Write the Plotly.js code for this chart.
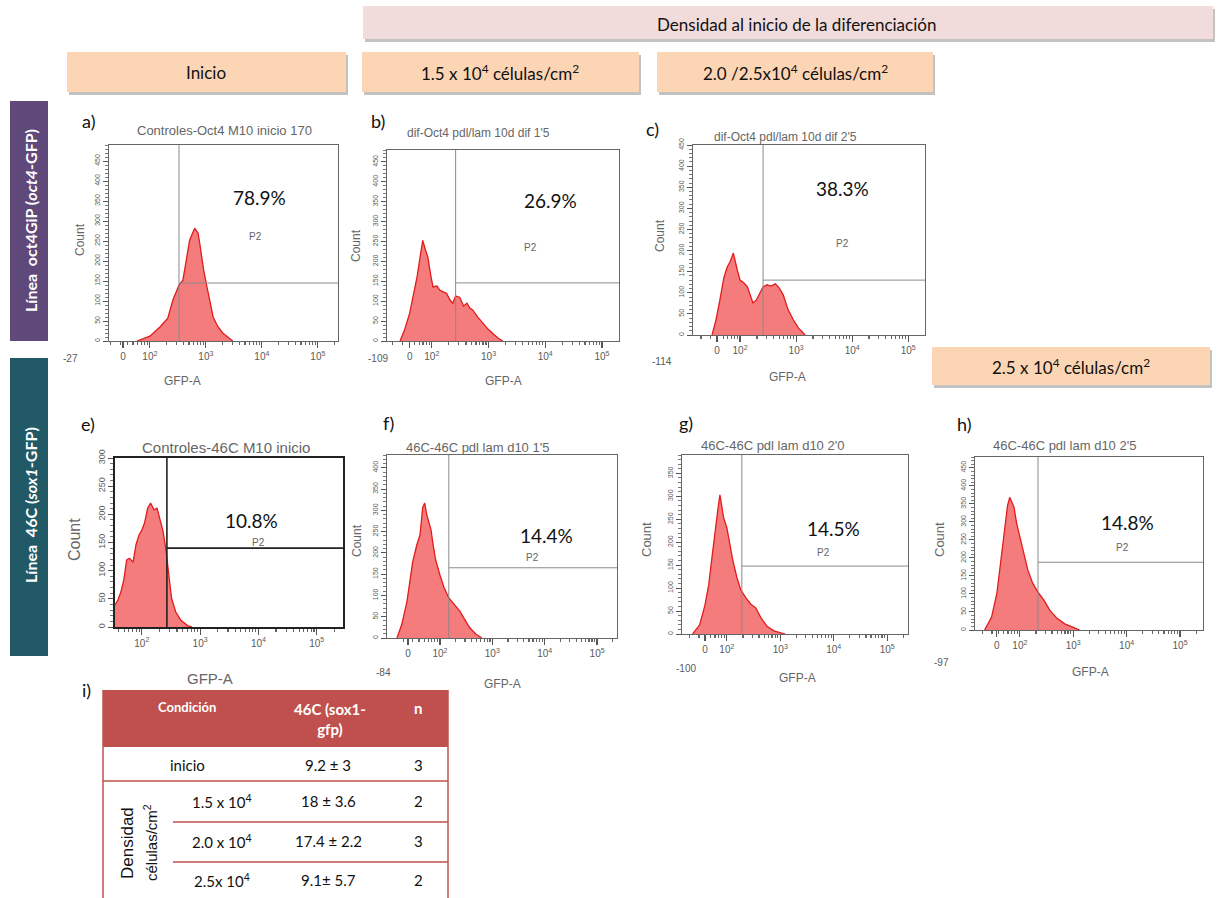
<!DOCTYPE html>
<html>
<head>
<meta charset="utf-8">
<script src="https://cdn.plot.ly/plotly-3.0.1.min.js"></script>
<style>html,body{margin:0;padding:0;background:#fff;}#chart{width:1218px;height:898px;}</style>
</head>
<body>
<div id="chart"></div>
<script>
// ---------------- DATA ----------------
// GFP-A position in decades (2 = 10^2, 3 = 10^3 ...) and counts
const histA_x = [1.77,2.00,2.18,2.32,2.41,2.52,2.59,2.66,2.71,2.80,2.86,2.89,2.96,3.02,3.13,3.21,3.30,3.48];
const histA_y = [0,12,35,57,102,140,152,215,252,282,270,245,178,135,60,37,20,0];

const histB_x = [1.44,1.52,1.61,1.68,1.74,1.79,1.84,1.89,1.93,1.98,2.02,2.09,2.14,2.21,2.26,2.32,2.37,2.42,2.49,2.56,2.62,2.67,2.72,2.81,2.90,2.99,3.08,3.16,3.25];
const histB_y = [0,28,70,115,161,208,253,228,211,166,136,138,128,123,120,103,95,113,110,88,95,83,78,60,45,30,18,8,0];

const histC_x = [1.50,1.57,1.64,1.71,1.77,1.82,1.88,1.91,1.95,2.00,2.07,2.13,2.18,2.23,2.29,2.36,2.41,2.48,2.55,2.63,2.70,2.77,2.86,2.95,3.04,3.16];
const histC_y = [0,36,83,135,161,173,194,173,154,130,123,114,95,76,83,102,114,119,116,121,111,95,59,36,17,0];

const histE_x = [1.54,1.59,1.64,1.69,1.74,1.79,1.85,1.90,1.95,2.00,2.05,2.10,2.15,2.21,2.26,2.31,2.36,2.41,2.46,2.51,2.58,2.67,2.79,2.86];
const histE_y = [39,48,62,83,119,122,115,146,163,172,186,211,220,208,211,190,172,140,92,51,27,12,2,0];

const histF_x = [1.18,1.27,1.37,1.43,1.48,1.56,1.62,1.67,1.71,1.75,1.79,1.83,1.87,1.92,2.00,2.08,2.17,2.29,2.38,2.48,2.57,2.69,2.80];
const histF_y = [0,31,85,132,179,219,242,306,317,289,273,254,219,183,148,118,94,75,63,42,24,9,0];

const histG_x = [1.36,1.49,1.59,1.66,1.72,1.79,1.83,1.87,1.91,1.94,2.00,2.06,2.11,2.19,2.26,2.36,2.45,2.54,2.64,2.75,2.88,3.09];
const histG_y = [0,20,63,107,166,238,270,303,270,253,231,194,161,122,96,78,65,57,35,17,7,0];

const histH_x = [1.34,1.47,1.57,1.66,1.74,1.77,1.81,1.85,1.89,1.94,2.00,2.08,2.15,2.24,2.34,2.45,2.56,2.69,2.84,2.99,3.12];
const histH_y = [0,36,102,213,305,346,368,352,341,296,258,208,166,130,105,83,55,33,17,8,0];

const histX = [histA_x, histB_x, histC_x, histE_x, histF_x, histG_x, histH_x];
const histY = [histA_y, histB_y, histC_y, histE_y, histF_y, histG_y, histH_y];

const panelLetters = ['a)','b)','c)','e)','f)','g)','h)'];
const panelTitles = ['Controles-Oct4 M10 inicio 170','dif-Oct4 pdl/lam 10d dif 1\'5','dif-Oct4 pdl/lam 10d dif 2\'5',
                     'Controles-46C M10 inicio','46C-46C pdl lam d10 1\'5','46C-46C pdl lam d10 2\'0','46C-46C pdl lam d10 2\'5'];
const gatePct = ['78.9%','26.9%','38.3%','10.8%','14.4%','14.5%','14.8%'];
const gateX = [2.52, 2.42, 2.41, 2.43, 2.17, 2.28, 2.34];
const gateY = [145, 146, 130, 140, 165, 148, 188];
const negLabels = ['-27','-109','-114','','-84','-100','-97'];
const decadeTicks = [2, 3, 4, 5];
const decadeLabels = ['10<sup>2</sup>','10<sup>3</sup>','10<sup>4</sup>','10<sup>5</sup>'];
const gateName = 'P2';

const topHeader = 'Densidad al inicio de la diferenciación';
const colHeaders = ['Inicio','1.5 x 10<sup>4</sup> células/cm<sup>2</sup>','2.0 /2.5x10<sup>4</sup> células/cm<sup>2</sup>','2.5 x 10<sup>4</sup> células/cm<sup>2</sup>'];
const rowHeaders = ['<b>Línea  oct4GiP (<i>oct4</i>-GFP)</b>','<b>Línea  46C (<i>sox1</i>-GFP)</b>'];

const tableHeader = ['Condición','46C (sox1-<br>gfp)','n'];
const tableCond = ['inicio','1.5 x 10<sup>4</sup>','2.0 x 10<sup>4</sup>','2.5x 10<sup>4</sup>'];
const tableVal = ['9.2 ± 3','18 ± 3.6','17.4 ± 2.2','9.1± 5.7'];
const tableN = ['3','2','3','2'];
const tableSide = ['Densidad','células/cm<sup>2</sup>'];

// ---------------- LAYOUT ----------------
const W = 1218, H = 898;
const PX = x => x / W, PY = y => 1 - y / H;
const CAL = 'Lato, "Liberation Sans", sans-serif';
const ARI = '"Liberation Sans", Arial, sans-serif';
const GREY = '#5a5a5a';

const panels = [
  {box:[109,145,338,341], xr:[1.27,5.36], yMax:490, zero:1.52, neg:[70,358], title:[224,131,13], pct:[259,197], p2:[255,237], letter:[89,121], count:[80,240,12], gfp:[182,381], ytf:7},
  {box:[387,150,619,341], xr:[1.21,5.30], yMax:480, zero:1.61, neg:[378,358], title:[478,133,12], pct:[550,200], p2:[530,248], letter:[378,121], count:[356,245,12], gfp:[503,381], ytf:7},
  {box:[693,145,925,335], xr:[1.16,5.30], yMax:450, zero:1.59, neg:[662,362], title:[785,137,12], pct:[842,188], p2:[842,243], letter:[652,129], count:[660,236,12], gfp:[787,377], ytf:7},
  {box:[115,458,343,627], xr:[1.54,5.45], yMax:300, zero:null, neg:null, title:[226,447,15], pct:[251,520], p2:[258,542], letter:[88,424], count:[74,540,16], gfp:[210,678], ytf:9, dark:true},
  {box:[387,455,617,638], xr:[0.99,5.38], yMax:430, zero:1.39, neg:[383,672], title:[477,447,13], pct:[546,535], p2:[532,557], letter:[388,423], count:[357,540,12], gfp:[502,684], ytf:7},
  {box:[682,455,908,634], xr:[1.16,5.39], yMax:390, zero:1.59, neg:[686,668], title:[772,445,13], pct:[833,528], p2:[823,552], letter:[686,423], count:[646,540,13], gfp:[797,678], ytf:7},
  {box:[975,457,1203,630], xr:[1.16,5.43], yMax:480, zero:1.57, neg:[941,662], title:[1064,445,13], pct:[1127,522], p2:[1122,547], letter:[964,424], count:[939,540,13], gfp:[1090,672], ytf:7}
];

const traces = [];
const layout = {
  width: W, height: H, autosize: false,
  margin: {l:0, r:0, t:0, b:0, pad:0},
  paper_bgcolor: '#ffffff', plot_bgcolor: '#ffffff',
  showlegend: false,
  shapes: [], annotations: []
};

function ann(x, y, text, font, extra) {
  layout.annotations.push(Object.assign({
    x: PX(x), y: PY(y), xref:'paper', yref:'paper', text: text, showarrow:false,
    xanchor:'center', yanchor:'middle', font: font
  }, extra || {}));
}
function rect(x0, y0, x1, y1, fill, line) {
  layout.shapes.push({type:'rect', xref:'paper', yref:'paper', x0:PX(x0), x1:PX(x1), y0:PY(y1), y1:PY(y0),
    fillcolor: fill, line: line || {width:0}, layer:'below'});
}
function hline(x0, x1, y, color, w) {
  layout.shapes.push({type:'line', xref:'paper', yref:'paper', x0:PX(x0), x1:PX(x1), y0:PY(y), y1:PY(y), line:{color:color, width:w}});
}
function vline(x, y0, y1, color, w) {
  layout.shapes.push({type:'line', xref:'paper', yref:'paper', x0:PX(x), x1:PX(x), y0:PY(y0), y1:PY(y1), line:{color:color, width:w}});
}

const HF = {family:CAL, size:17, color:'#111', weight:'normal'};
// header boxes (with soft shadow)
function headerBox(x0, y0, x1, y1, fill) {
  rect(x0+2, y0+3, x1+2, y1+3, 'rgba(120,120,120,0.45)');
  rect(x0, y0, x1, y1, fill);
}
headerBox(363, 6, 1213, 39, '#f2dcdb');
headerBox(67, 52, 346, 92, '#fcd5b4');
headerBox(362, 52, 639, 92, '#fcd5b4');
headerBox(657, 52, 933, 92, '#fcd5b4');
headerBox(932, 347, 1210, 385, '#fcd5b4');
ann(796, 25, topHeader, HF);
ann(206, 72, colHeaders[0], HF);
ann(500, 72, colHeaders[1], HF);
ann(795, 72, colHeaders[2], HF);
ann(1071, 366, colHeaders[3], HF);

// side labels
rect(10, 101, 48, 341, '#5f497a');
rect(10, 358, 48, 656, '#215967');
ann(30, 221, rowHeaders[0], {family:CAL, size:16, color:'#ffffff'}, {textangle:-90});
ann(30, 505, rowHeaders[1], {family:CAL, size:16, color:'#ffffff'}, {textangle:-90});

// flow panels
panels.forEach((p, i) => {
  const s = i === 0 ? '' : String(i + 1);
  const xa = 'x' + s, ya = 'y' + s;
  const lc = p.dark ? '#222' : '#666';
  const lw = p.dark ? 1.6 : 1.3;
  traces.push({
    type:'scatter', mode:'lines', x: histX[i], y: histY[i], xaxis: xa, yaxis: ya,
    fill:'tozeroy', fillcolor:'rgba(242,106,106,0.88)',
    line:{color:'#e31b1b', width:1.3}, hoverinfo:'skip'
  });
  const minors = [];
  for (let d = 1; d <= 5; d++) for (let k = 2; k <= 9; k++) {
    const v = d + Math.log10(k);
    if (v > p.xr[0] && v < p.xr[1]) minors.push(v);
  }
  const tv = p.zero === null ? decadeTicks.slice() : [p.zero].concat(decadeTicks);
  const tt = p.zero === null ? decadeLabels.slice() : ['0'].concat(decadeLabels);
  const yv = [], yt = [];
  for (let v = 0; v <= p.yMax; v += 50) { yv.push(v); yt.push(String(v)); }
  layout['xaxis' + s] = {
    domain:[PX(p.box[0]), PX(p.box[2])], range:p.xr, anchor: ya,
    showline:true, mirror:true, linecolor:lc, linewidth:lw,
    ticks:'outside', ticklen:6, tickcolor:'#555', tickwidth:1.2,
    tickmode:'array', tickvals: tv, ticktext: tt,
    tickfont:{family:ARI, size:10, color:GREY},
    minor:{tickmode:'array', tickvals: minors, ticks:'outside', ticklen:3, tickcolor:'#666'},
    showgrid:false, zeroline:false, fixedrange:true
  };
  layout['yaxis' + s] = {
    domain:[PY(p.box[3]), PY(p.box[1])], range:[0, p.yMax], anchor: xa,
    showline:true, mirror:true, linecolor:lc, linewidth:lw,
    ticks:'outside', ticklen:5, tickcolor:'#555',
    tickmode:'array', tickvals: yv, ticktext: yt, tickangle:-90,
    tickfont:{family:ARI, size:p.ytf, color:GREY},
    minor:{dtick:10, ticks:'outside', ticklen:3, tickcolor:'#777'},
    showgrid:false, zeroline:false, fixedrange:true
  };
  const gc = p.dark ? '#222' : '#8a8a8a';
  const gw = p.dark ? 1.6 : 1;
  layout.shapes.push({type:'line', xref:xa, yref:ya, x0:gateX[i], x1:gateX[i], y0:0, y1:p.yMax, line:{color:gc, width:gw}});
  layout.shapes.push({type:'line', xref:xa, yref:ya, x0:gateX[i], x1:p.xr[1], y0:gateY[i], y1:gateY[i], line:{color:gc, width:gw}});
  ann(p.letter[0], p.letter[1], panelLetters[i], {family:CAL, size:18, color:'#111', weight:'normal'});
  ann(p.title[0], p.title[1], panelTitles[i], {family:ARI, size:p.title[2], color:'#666'});
  ann(p.pct[0], p.pct[1], gatePct[i], {family:CAL, size:19, color:'#111', weight:'normal'});
  ann(p.p2[0], p.p2[1], gateName, {family:ARI, size:10, color:'#666'});
  ann(p.count[0], p.count[1], 'Count', {family:ARI, size:p.count[2], color:'#666'}, {textangle:-90});
  ann(p.gfp[0], p.gfp[1], 'GFP-A', {family:ARI, size:p.dark ? 15 : 12, color:'#666'});
  if (p.neg) ann(p.neg[0], p.neg[1], negLabels[i], {family:ARI, size:10, color:GREY});
});

// table i)
const RED = '#c0504d';
ann(86, 690, 'i)', {family:CAL, size:18, color:'#111', weight:'normal'});
rect(103, 690, 448, 747, RED);
ann(187, 707, '<b>' + tableHeader[0] + '</b>', {family:CAL, size:13, color:'#fff'});
ann(330, 719, '<b>' + tableHeader[1] + '</b>', {family:CAL, size:15, color:'#fff'});
ann(418, 708, '<b>' + tableHeader[2] + '</b>', {family:CAL, size:15, color:'#fff'});
vline(103, 690, 898, RED, 1.5);
vline(448, 690, 898, RED, 1.5);
hline(103, 448, 781, RED, 1.5);
hline(173, 448, 822, RED, 1.5);
hline(173, 448, 862, RED, 1.5);
const rowY = [765, 801, 841, 880];
const TF = {family:CAL, size:15, color:'#111', weight:'normal'};
ann(187, rowY[0], tableCond[0], TF);
for (let r = 1; r < tableCond.length; r++) ann(222, rowY[r], tableCond[r], TF);
for (let r = 0; r < tableVal.length; r++) {
  ann(328, rowY[r], tableVal[r], TF);
  ann(418, rowY[r], tableN[r], TF);
}
ann(127, 843, tableSide[0], {family:ARI, size:17, color:'#111'}, {textangle:-90});
ann(150, 843, tableSide[1], {family:ARI, size:15, color:'#111'}, {textangle:-90});

Plotly.newPlot('chart', traces, layout, {displayModeBar:false, staticPlot:true});
</script>
</body>
</html>
